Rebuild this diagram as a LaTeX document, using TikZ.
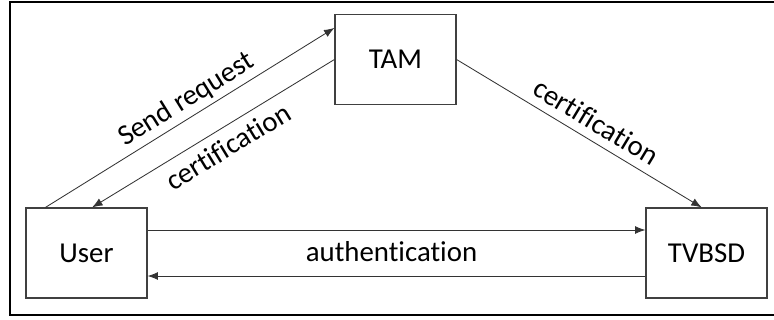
\documentclass[tikz,border=0pt]{standalone}
\usepackage{fontspec}
\setmainfont{Carlito}[Ligatures={NoCommon}]
\usetikzlibrary{arrows.meta}
\begin{document}
\begin{tikzpicture}[x=0.025cm,y=-0.025cm,>={Latex[length=0.26cm,width=0.2cm]},
    box/.style={draw=black!75,line width=0.8pt,minimum width=3.025cm,minimum height=2.25cm,inner sep=0pt,font=\fontsize{20.5}{24}\selectfont},
    link/.style={draw=black!80,line width=0.6pt},
    lbl/.style={font=\fontsize{20.5}{24}\selectfont,inner sep=1pt}]
    \useasboundingbox (0,0) rectangle (774,320);
    \draw[line width=0.9pt] (10,2) rectangle (780,315);
    \node[box] (user) at (86.5,253) {User};
    \node[box] (tam) at (395.5,59.5) {TAM};
    \node[box] (tvbsd) at (706.5,253) {TVBSD};
    \draw[link,->] ([xshift=0.5cm]user.north west) -- node[lbl,sloped,above=2pt,pos=0.52] {Send request} ([yshift=-0.35cm]tam.north west);
    \draw[link,<-] ([xshift=0.14cm]user.north) -- node[lbl,sloped,below=5pt,pos=0.52] {certification} (tam.west);
    \draw[link,->] (tam.east) -- node[lbl,sloped,above=5pt,pos=0.53] {certification} ([xshift=-0.12cm]tvbsd.north);
    \draw[link,->] ([yshift=0.575cm]user.east) -- node[lbl,below=7pt,pos=0.49] {authentication} ([yshift=0.575cm]tvbsd.west);
    \draw[link,->] ([yshift=-0.575cm]tvbsd.west) -- ([yshift=-0.575cm]user.east);
\end{tikzpicture}
\end{document}
